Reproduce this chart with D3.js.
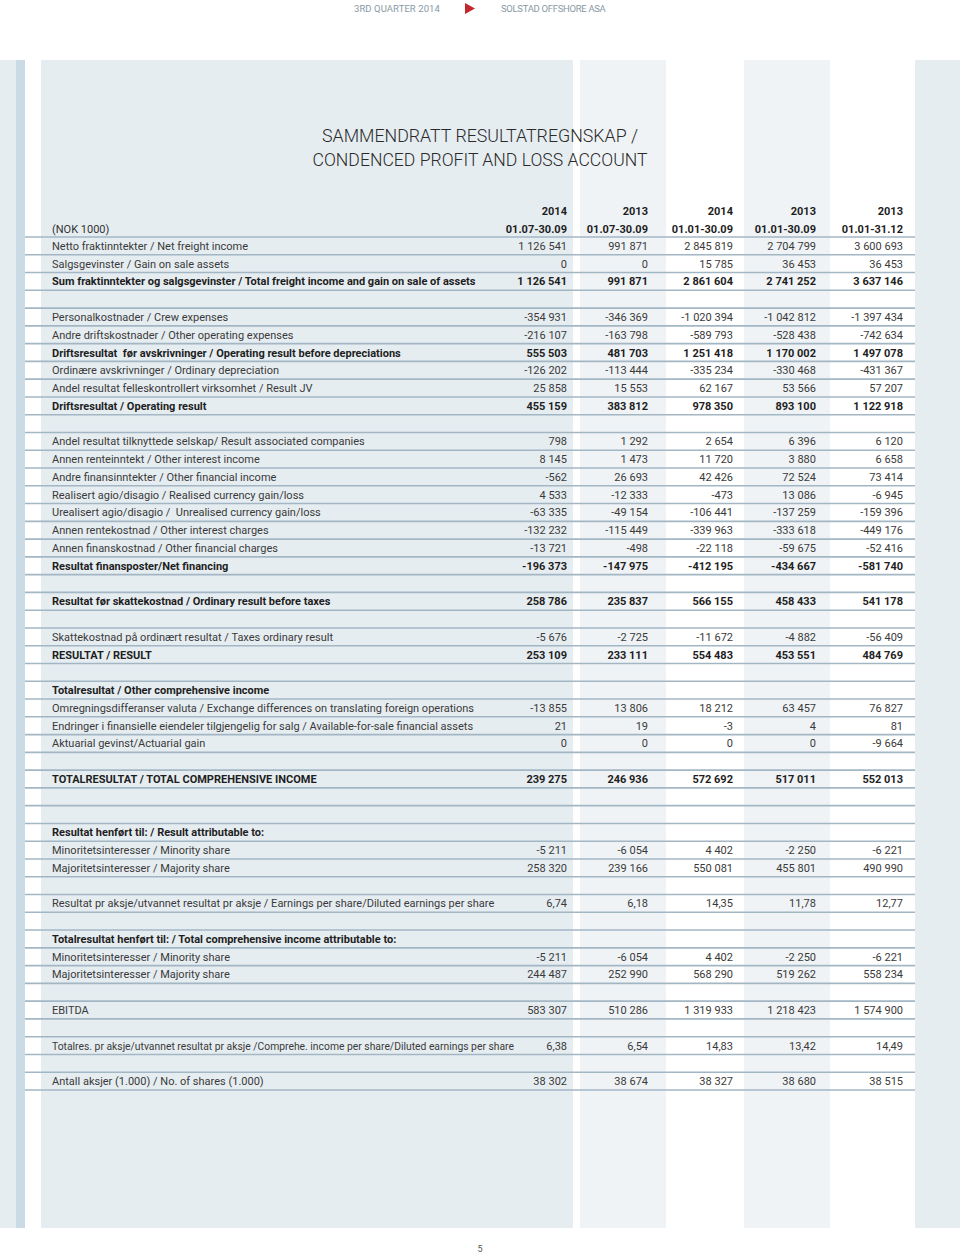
<!DOCTYPE html>
<html>
<head>
<meta charset="utf-8">
<script src="https://cdn.jsdelivr.net/npm/d3@7"></script>
<style>
  body { margin: 0; background: #fff; }
  svg { display: block; font-family: Roboto, "Open Sans", sans-serif; }
</style>
</head>
<body>
<div id="page"></div>
<script>
// column headers
const years = ["2014", "2013", "2014", "2013", "2013"];
const periods = ["01.07-30.09", "01.07-30.09", "01.01-30.09", "01.01-30.09", "01.01-31.12"];

// row labels ("" = empty spacer row)
const rowLabels = [
  "Netto fraktinntekter / Net freight income",
  "Salgsgevinster / Gain on sale assets",
  "Sum fraktinntekter og salgsgevinster / Total freight income and gain on sale of assets",
  "",
  "Personalkostnader / Crew expenses",
  "Andre driftskostnader / Other operating expenses",
  "Driftsresultat  før avskrivninger / Operating result before depreciations",
  "Ordinære avskrivninger / Ordinary depreciation",
  "Andel resultat felleskontrollert virksomhet / Result JV",
  "Driftsresultat / Operating result",
  "",
  "Andel resultat tilknyttede selskap/ Result associated companies",
  "Annen renteinntekt / Other interest income",
  "Andre finansinntekter / Other financial income",
  "Realisert agio/disagio / Realised currency gain/loss",
  "Urealisert agio/disagio /  Unrealised currency gain/loss",
  "Annen rentekostnad / Other interest charges",
  "Annen finanskostnad / Other financial charges",
  "Resultat finansposter/Net financing",
  "",
  "Resultat før skattekostnad / Ordinary result before taxes",
  "",
  "Skattekostnad på ordinært resultat / Taxes ordinary result",
  "RESULTAT / RESULT",
  "",
  "Totalresultat / Other comprehensive income",
  "Omregningsdifferanser valuta / Exchange differences on translating foreign operations",
  "Endringer i finansielle eiendeler tilgjengelig for salg / Available-for-sale financial assets",
  "Aktuarial gevinst/Actuarial gain",
  "",
  "TOTALRESULTAT / TOTAL COMPREHENSIVE INCOME",
  "",
  "",
  "Resultat henført til: / Result attributable to:",
  "Minoritetsinteresser / Minority share",
  "Majoritetsinteresser / Majority share",
  "",
  "Resultat pr aksje/utvannet resultat pr aksje / Earnings per share/Diluted earnings per share",
  "",
  "Totalresultat henført til: / Total comprehensive income attributable to:",
  "Minoritetsinteresser / Minority share",
  "Majoritetsinteresser / Majority share",
  "",
  "EBITDA",
  "",
  "Totalres. pr aksje/utvannet resultat pr aksje /Comprehe. income per share/Diluted earnings per share",
  "",
  "Antall aksjer (1.000) / No. of shares (1.000)"
];
const boldRows = [2, 6, 9, 18, 20, 23, 25, 30, 33, 39];
const decimalRows = [37, 45];

// values per column, same order as rowLabels (null = no value)
const q3_2014 = [
  1126541, 0, 1126541, null,
  -354931, -216107, 555503, -126202, 25858, 455159, null,
  798, 8145, -562, 4533, -63335, -132232, -13721, -196373, null,
  258786, null, -5676, 253109, null,
  null, -13855, 21, 0, null,
  239275, null, null,
  null, -5211, 258320, null, 6.74, null,
  null, -5211, 244487, null,
  583307, null, 6.38, null, 38302
];
const q3_2013 = [
  991871, 0, 991871, null,
  -346369, -163798, 481703, -113444, 15553, 383812, null,
  1292, 1473, 26693, -12333, -49154, -115449, -498, -147975, null,
  235837, null, -2725, 233111, null,
  null, 13806, 19, 0, null,
  246936, null, null,
  null, -6054, 239166, null, 6.18, null,
  null, -6054, 252990, null,
  510286, null, 6.54, null, 38674
];
const ytd_2014 = [
  2845819, 15785, 2861604, null,
  -1020394, -589793, 1251418, -335234, 62167, 978350, null,
  2654, 11720, 42426, -473, -106441, -339963, -22118, -412195, null,
  566155, null, -11672, 554483, null,
  null, 18212, -3, 0, null,
  572692, null, null,
  null, 4402, 550081, null, 14.35, null,
  null, 4402, 568290, null,
  1319933, null, 14.83, null, 38327
];
const ytd_2013 = [
  2704799, 36453, 2741252, null,
  -1042812, -528438, 1170002, -330468, 53566, 893100, null,
  6396, 3880, 72524, 13086, -137259, -333618, -59675, -434667, null,
  458433, null, -4882, 453551, null,
  null, 63457, 4, 0, null,
  517011, null, null,
  null, -2250, 455801, null, 11.78, null,
  null, -2250, 519262, null,
  1218423, null, 13.42, null, 38680
];
const fy_2013 = [
  3600693, 36453, 3637146, null,
  -1397434, -742634, 1497078, -431367, 57207, 1122918, null,
  6120, 6658, 73414, -6945, -159396, -449176, -52416, -581740, null,
  541178, null, -56409, 484769, null,
  null, 76827, 81, -9664, null,
  552013, null, null,
  null, -6221, 490990, null, 12.77, null,
  null, -6221, 558234, null,
  1574900, null, 14.49, null, 38515
];
const columns = [q3_2014, q3_2013, ytd_2014, ytd_2013, fy_2013];

const width = 960, height = 1255;
const svg = d3.select("#page").append("svg")
  .attr("width", width)
  .attr("height", height);

// background panels
const bg = svg.append("g");
const panels = [
  {x: 0, w: 16, c: "#e6edf1"},
  {x: 16, w: 9, c: "#cadbe5"},
  {x: 41, w: 532, c: "#e6edf1"},
  {x: 580, w: 86, c: "#eff3f6"},
  {x: 744, w: 86, c: "#eff3f6"},
  {x: 915, w: 45, c: "#e6edf1"}
];
bg.selectAll("rect").data(panels).enter().append("rect")
  .attr("x", d => d.x).attr("y", 60)
  .attr("width", d => d.w).attr("height", 1168)
  .attr("fill", d => d.c);

// running header
const runHead = svg.append("g").style("font-size", "9.5px").attr("fill", "#8899a6");
runHead.append("text").attr("x", 354).attr("y", 12).attr("textLength", 87)
  .style("letter-spacing", "1.2px").text("3RD QUARTER 2014");
runHead.append("path").attr("d", "M465,3 L475,8.5 L465,14 Z").attr("fill", "#c4262e");
runHead.append("text").attr("x", 501).attr("y", 12).attr("textLength", 106)
  .style("letter-spacing", "1.2px").text("SOLSTAD OFFSHORE ASA");

// title
const title = svg.append("g").attr("text-anchor", "middle")
  .style("font-size", "19px").style("font-weight", 300).attr("fill", "#2a2a2a");
title.append("text").attr("x", 480).attr("y", 142)
  .attr("textLength", 316).attr("lengthAdjust", "spacingAndGlyphs")
  .text("SAMMENDRATT RESULTATREGNSKAP /");
title.append("text").attr("x", 480).attr("y", 166)
  .attr("textLength", 335).attr("lengthAdjust", "spacingAndGlyphs")
  .text("CONDENCED PROFIT AND LOSS ACCOUNT");

// scales
const x = d3.scaleOrdinal().domain(d3.range(5)).range([567, 648, 733, 816, 903]);
const y = d3.scaleBand().domain(d3.range(rowLabels.length)).range([237, 1090]);
const bw = y.bandwidth();
const cy = i => y(i) + bw / 2;

const nok = d3.formatLocale({decimal: ",", thousands: " ", grouping: [3], currency: ["", ""], minus: "-"});
const fmtInt = nok.format(",d");
const fmtDec = nok.format(",.2f");

// row rules
const rules = d3.range(rowLabels.length + 1).map(i => i < rowLabels.length ? y(i) : y(i - 1) + bw);
svg.append("g").selectAll("line").data(rules).enter().append("line")
  .attr("x1", 25).attr("x2", 915)
  .attr("y1", d => d).attr("y2", d => d)
  .attr("stroke", "#a3b6c4").attr("stroke-width", 1.6);

const table = svg.append("g").style("font-size", "11px");

// column headers
table.append("g").attr("text-anchor", "end").style("font-weight", 700).attr("fill", "#1e1e1e")
  .selectAll("text").data(years).enter().append("text")
  .attr("x", (d, i) => x(i)).attr("y", 215).text(d => d);
table.append("g").attr("text-anchor", "end").style("font-weight", 700).attr("fill", "#1e1e1e")
  .selectAll("text").data(periods).enter().append("text")
  .attr("x", (d, i) => x(i)).attr("y", 233).text(d => d);
table.append("text").attr("x", 52).attr("y", 233).attr("fill", "#333").text("(NOK 1000)");

// labels (squeezed when they would run into the first value column)
const maxLabel = 462;
const rows = rowLabels.map((label, i) => ({label, i, bold: boldRows.includes(i)}))
  .filter(d => d.label !== "");
table.append("g").selectAll("text").data(rows).enter().append("text")
  .attr("x", 52)
  .attr("y", d => cy(d.i) + 4)
  .style("white-space", "pre")
  .style("font-weight", d => d.bold ? 700 : 400)
  .attr("fill", d => d.bold ? "#1e1e1e" : "#3a3a3a")
  .text(d => d.label)
  .each(function() {
    if (this.getComputedTextLength() > maxLabel) {
      d3.select(this).attr("textLength", maxLabel).attr("lengthAdjust", "spacingAndGlyphs");
    }
  });

// values
columns.forEach((col, c) => {
  const cells = col.map((v, i) => ({v, i})).filter(d => d.v !== null);
  table.append("g").attr("text-anchor", "end")
    .selectAll("text").data(cells).enter().append("text")
    .attr("x", x(c))
    .attr("y", d => cy(d.i) + 4)
    .style("font-weight", d => boldRows.includes(d.i) ? 700 : 400)
    .attr("fill", d => boldRows.includes(d.i) ? "#1e1e1e" : "#3a3a3a")
    .text(d => decimalRows.includes(d.i) ? fmtDec(d.v) : fmtInt(d.v));
});

// page number
svg.append("text").attr("x", 480).attr("y", 1252).attr("text-anchor", "middle")
  .style("font-size", "9px").attr("fill", "#555").text("5");
</script>
</body>
</html>
